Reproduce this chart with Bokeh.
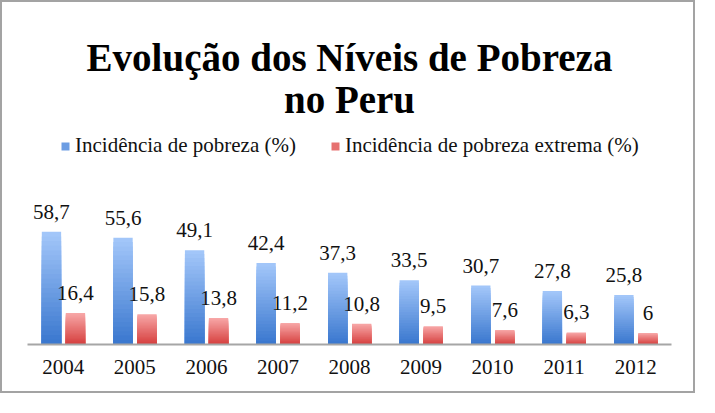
import numpy as np
from bokeh.plotting import figure
from bokeh.models import (ColumnDataSource, FactorRange, Range1d, Label, LabelSet,
                          Legend, LegendItem)
from bokeh.transform import dodge
from bokeh.embed import file_html
from bokeh.resources import INLINE

# ---- data ----
years = ["2004", "2005", "2006", "2007", "2008", "2009", "2010", "2011", "2012"]
pobreza = [58.7, 55.6, 49.1, 42.4, 37.3, 33.5, 30.7, 27.8, 25.8]
extrema = [16.4, 15.8, 13.8, 11.2, 10.8, 9.5, 7.6, 6.3, 6.0]
pobreza_lbl = ["58,7", "55,6", "49,1", "42,4", "37,3", "33,5", "30,7", "27,8", "25,8"]
extrema_lbl = ["16,4", "15,8", "13,8", "11,2", "10,8", "9,5", "7,6", "6,3", "6"]
series_names = ["Incidência de pobreza (%)", "Incidência de pobreza extrema (%)"]
title_lines = ["Evolução dos Níveis de Pobreza", "no Peru"]

SERIF = "Liberation Serif"

p = figure(x_range=FactorRange(*years, range_padding=0), y_range=Range1d(0, 178),
           width=695, height=393, output_backend="svg", toolbar_location=None,
           min_border_left=25, min_border_right=26, min_border_top=0, min_border_bottom=51)
p.styles = {"border": "2px solid #a3a3a3"}
p.outline_line_color = None
p.grid.grid_line_color = None
p.yaxis.visible = False

def hex_mix(c1, c2, t):
    a = np.array([int(c1[i:i + 2], 16) for i in (1, 3, 5)])
    b = np.array([int(c2[i:i + 2], 16) for i in (1, 3, 5)])
    c = np.round(a + (b - a) * t).astype(int)
    return "#%02x%02x%02x" % tuple(c)

N = 24
renderers = []
for vals, off, top_c, bot_c in [(pobreza, -0.165, "#a2c6f9", "#3b78cf"),
                                (extrema, 0.17, "#f7a6a6", "#d6403f")]:
    vals = np.array(vals, dtype=float)
    mid = None
    for i in range(N):
        frac = (N - i) / N
        src = ColumnDataSource(dict(x=years, top=vals * frac))
        col = hex_mix(top_c, bot_c, i / (N - 1))
        r = p.vbar(x=dodge("x", off, range=p.x_range), top="top", width=0.27,
                   source=src, fill_color=col, line_color=None)
        if i == N // 2:
            mid = r
    renderers.append(mid)

# data labels
for vals, lbls, off in [(pobreza, pobreza_lbl, -0.165), (extrema, extrema_lbl, 0.17)]:
    src = ColumnDataSource(dict(x=years, y=vals, t=lbls))
    ls = LabelSet(x=dodge("x", off, range=p.x_range), y="y", text="t", source=src,
                  y_offset=13, text_align="center", text_baseline="alphabetic",
                  text_font=SERIF, text_font_size="21px", text_color="#111111")
    p.add_layout(ls)

# title
for txt, yy in zip(title_lines, [149.5, 127.5]):
    p.add_layout(Label(x=4.5, y=yy, text=txt, text_align="center",
                       text_baseline="alphabetic", text_font=SERIF,
                       text_font_size="39px", text_font_style="bold",
                       text_color="#000000"))

legend = Legend(items=[LegendItem(label=series_names[0], renderers=[renderers[0]]),
                       LegendItem(label=series_names[1], renderers=[renderers[1]])],
                orientation="horizontal", location=(33, 186), padding=0, margin=0,
                spacing=34, glyph_width=10, glyph_height=10, label_standoff=5,
                label_text_font=SERIF, label_text_font_size="21px",
                label_text_color="#111111", border_line_color=None,
                background_fill_alpha=0)
p.add_layout(legend)

ax = p.xaxis[0]
ax.axis_line_color = "#a6a6a6"
ax.axis_line_width = 2
ax.major_tick_line_color = None
ax.minor_tick_line_color = None
ax.major_tick_out = 0
ax.major_label_standoff = 15
ax.major_label_text_font = SERIF
ax.major_label_text_font_size = "21px"
ax.major_label_text_color = "#111111"

open("out.html", "w").write(file_html(p, INLINE))
